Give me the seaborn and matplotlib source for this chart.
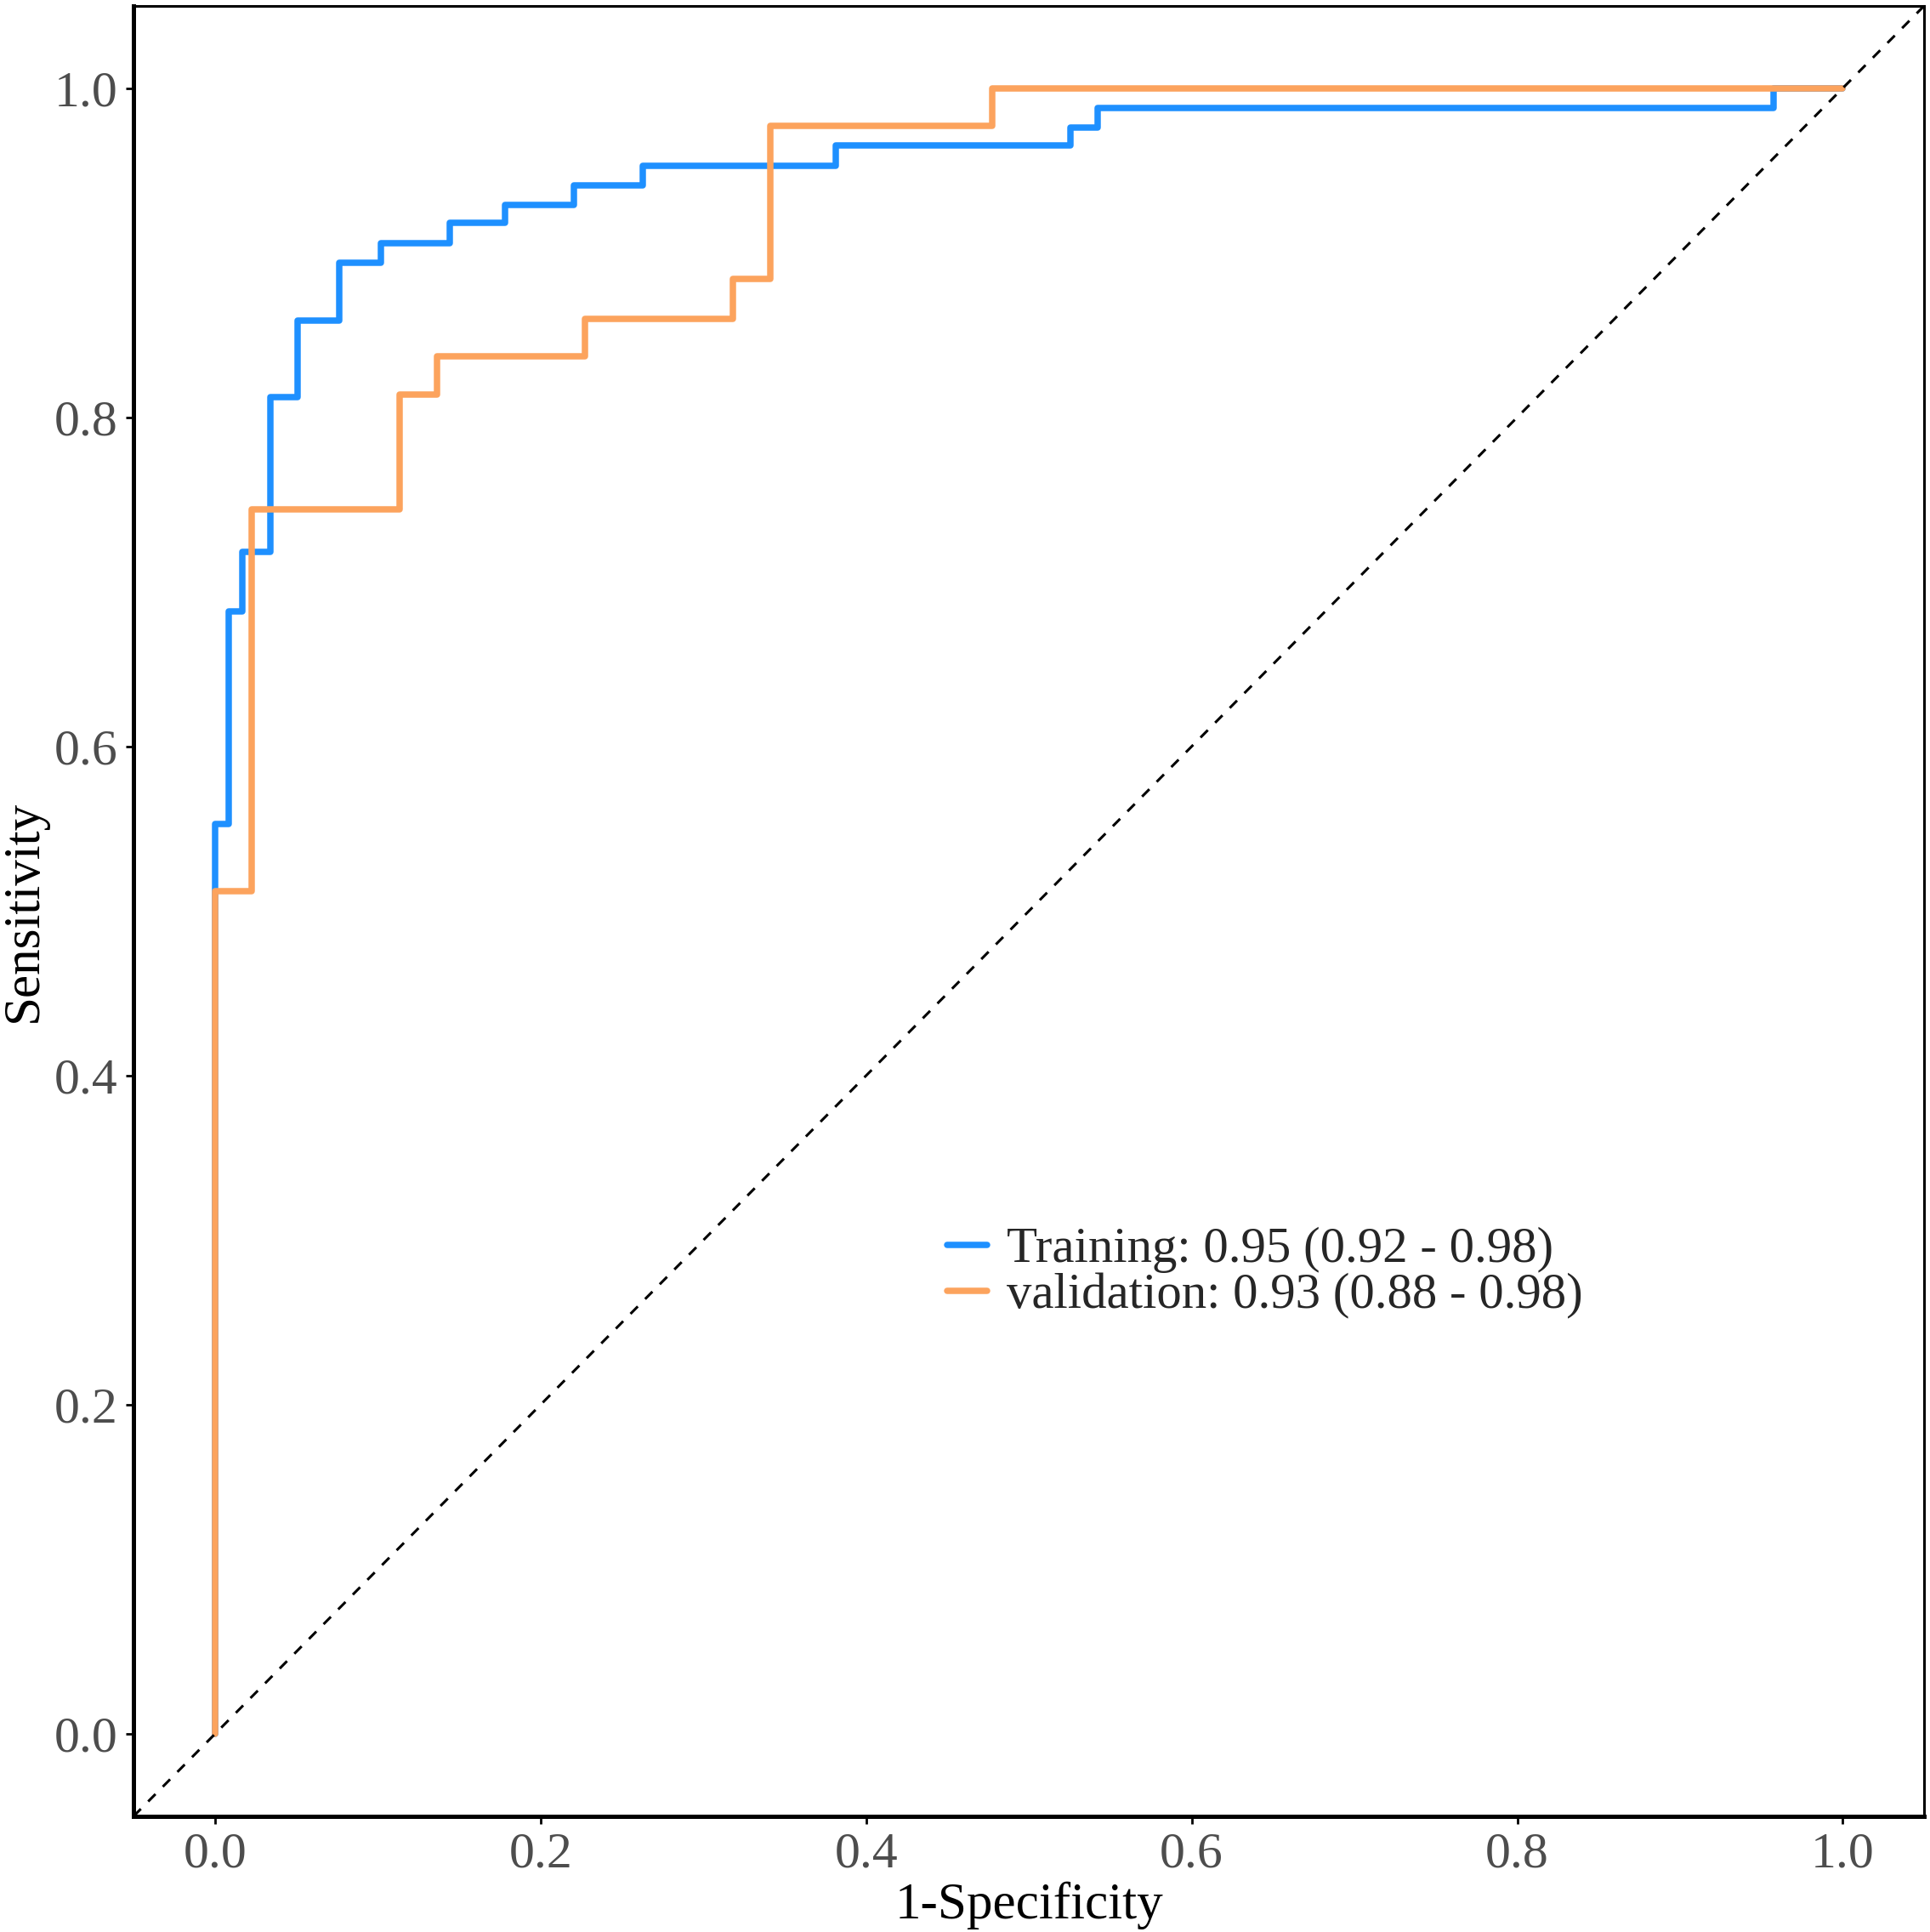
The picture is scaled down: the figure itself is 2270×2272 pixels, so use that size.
import pandas as pd
import matplotlib
matplotlib.use("Agg")
import matplotlib.pyplot as plt
import seaborn as sns

# ROC vertices (1-specificity, sensitivity)
train_fpr = [0.0, 0.0, 0.0085, 0.0085, 0.0169, 0.0169, 0.0339, 0.0339, 0.0508, 0.0508,
             0.0763, 0.0763, 0.1017, 0.1017, 0.1441, 0.1441, 0.1780, 0.1780, 0.2203, 0.2203,
             0.2627, 0.2627, 0.3814, 0.3814, 0.5254, 0.5254, 0.5424, 0.5424, 0.9576, 0.9576, 1.0]
train_tpr = [0.0, 0.553, 0.553, 0.682, 0.682, 0.718, 0.718, 0.812, 0.812, 0.859,
             0.859, 0.894, 0.894, 0.906, 0.906, 0.918, 0.918, 0.929, 0.929, 0.941,
             0.941, 0.953, 0.953, 0.965, 0.965, 0.976, 0.976, 0.988, 0.988, 1.0, 1.0]

valid_fpr = [0.0, 0.0, 0.0227, 0.0227, 0.1136, 0.1136, 0.1364, 0.1364, 0.2273, 0.2273,
             0.3182, 0.3182, 0.3409, 0.3409, 0.4773, 0.4773, 1.0]
valid_tpr = [0.0, 0.512, 0.512, 0.744, 0.744, 0.814, 0.814, 0.837, 0.837, 0.860,
             0.860, 0.884, 0.884, 0.977, 0.977, 1.0, 1.0]

labels = ["Training: 0.95 (0.92 - 0.98)", "validation: 0.93 (0.88 - 0.98)"]
colors = ["#1E90FF", "#FCA35D"]

df = pd.concat([
    pd.DataFrame({"fpr": train_fpr, "tpr": train_tpr, "model": labels[0]}),
    pd.DataFrame({"fpr": valid_fpr, "tpr": valid_tpr, "model": labels[1]}),
], ignore_index=True)

sns.set_style("white")
plt.rcParams["font.family"] = ["Liberation Serif", "DejaVu Serif"]

fig = plt.figure(figsize=(11.35, 11.36), dpi=200)
ax = fig.add_axes([0.0692, 0.0599, 0.9278, 0.9371])

sns.lineplot(data=df, x="fpr", y="tpr", hue="model", palette=colors,
             estimator=None, sort=False, units="model", linewidth=2.7, ax=ax)

# reference diagonal
ax.axline((0, 0), (1, 1), color="black", linestyle=(0, (4, 4)), linewidth=1.1, zorder=3)

ax.set_xlim(-0.05, 1.05)
ax.set_ylim(-0.05, 1.05)
ticks = [0.0, 0.2, 0.4, 0.6, 0.8, 1.0]
ax.set_xticks(ticks)
ax.set_yticks(ticks)
ax.set_xticklabels([f"{t:.1f}" for t in ticks])
ax.set_yticklabels([f"{t:.1f}" for t in ticks])
ax.tick_params(axis="both", which="major", direction="out", length=3.2, width=1.0,
               color="black", labelsize=21.5, labelcolor="#4D4D4D", pad=3.5,
               bottom=True, left=True)

ax.set_xlabel("1-Specificity", fontsize=22, color="black")
ax.set_ylabel("Sensitivity", fontsize=22, color="black")
ax.xaxis.set_label_coords(0.5, -0.036)
ax.yaxis.set_label_coords(-0.048, 0.5)

for side in ["left", "bottom"]:
    ax.spines[side].set_linewidth(1.8)
    ax.spines[side].set_color("black")
for side in ["top", "right"]:
    ax.spines[side].set_linewidth(1.1)
    ax.spines[side].set_color("black")

leg = ax.legend(loc="center left", bbox_to_anchor=(0.443, 0.30), frameon=False,
                fontsize=21.2, handlelength=0.8, handletextpad=0.4,
                labelspacing=0.0, borderaxespad=0)
for line in leg.get_lines():
    line.set_linewidth(2.7)

fig.savefig("out.png", dpi=200)
